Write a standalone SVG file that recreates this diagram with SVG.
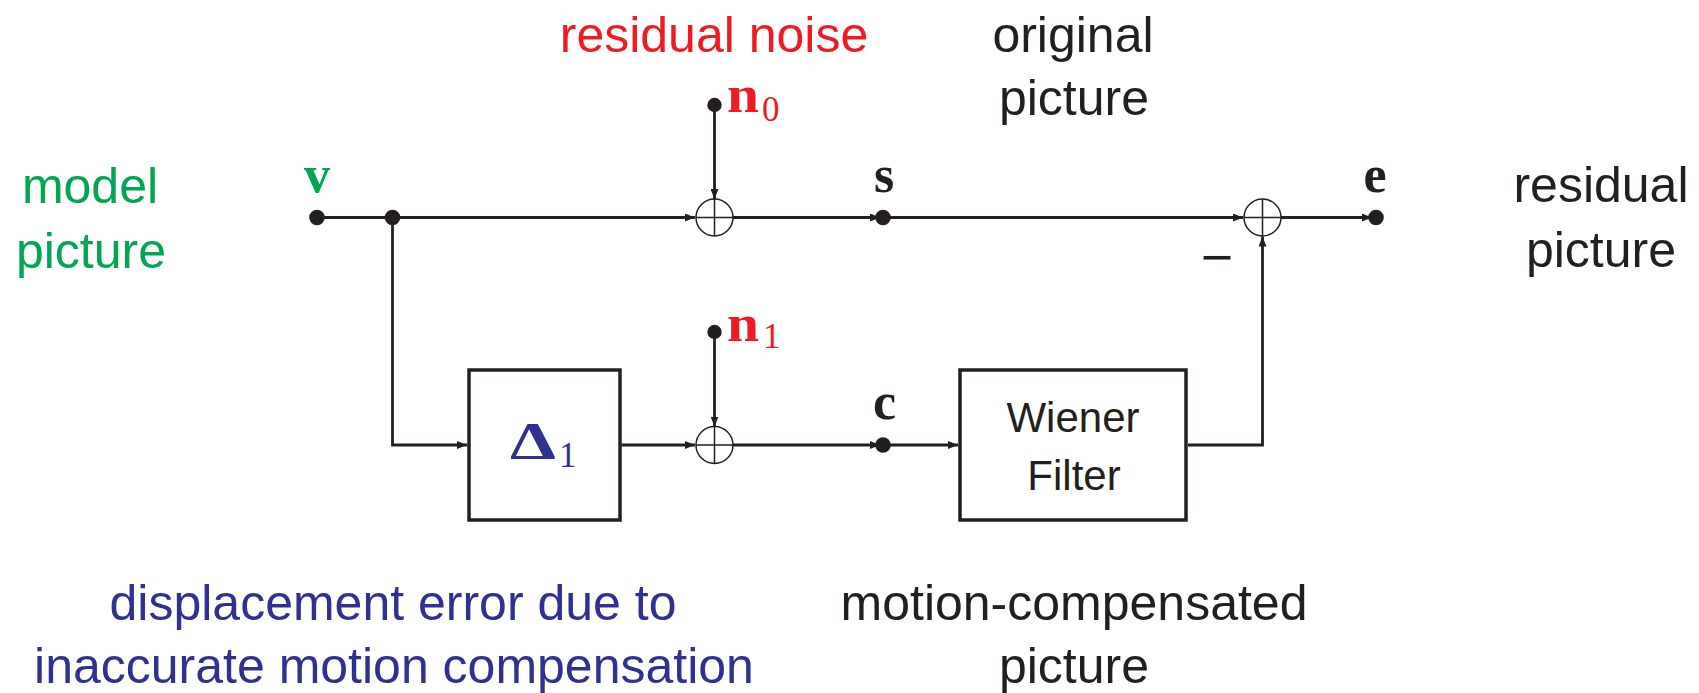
<svg xmlns="http://www.w3.org/2000/svg" width="1699" height="693" viewBox="0 0 1699 693">
<style>
.lbl{font-family:"Liberation Sans",Arial,sans-serif;font-size:50px;text-anchor:middle}
.box{fill:#fff;stroke:#231f20;stroke-width:3.5}
.btxt{font-family:"Liberation Sans",Arial,sans-serif;font-size:42px;text-anchor:middle;fill:#231f20}
.math{font-family:"Liberation Serif","Times New Roman",serif;font-weight:bold;font-size:52px}
.sub{font-family:"Liberation Serif","Times New Roman",serif;font-size:35px}
.wire{fill:none;stroke:#231f20;stroke-width:2.8}
.sum{fill:#fff;stroke:#231f20;stroke-width:1.5}
.dot{fill:#231f20}
.red{fill:#ed1c24}.green{fill:#00a651}.blue{fill:#2e3192}.blk{fill:#231f20}
</style>
<defs>
<marker id="arr" viewBox="0 0 10 8" refX="10" refY="4" markerWidth="10" markerHeight="8" markerUnits="userSpaceOnUse" orient="auto">
<path d="M0,0 L10,4 L0,8 z" fill="#231f20"/>
</marker>
</defs>

<g id="labels">
<text class="lbl green" x="90" y="203">model</text>
<text class="lbl green" x="91" y="268">picture</text>
<text class="lbl red" x="714" y="52">residual noise</text>
<text class="lbl blk" x="1073" y="52">original</text>
<text class="lbl blk" x="1074" y="115">picture</text>
<text class="lbl blk" x="1601" y="202">residual</text>
<text class="lbl blk" x="1601" y="267">picture</text>
<text class="lbl blue" x="393" y="620">displacement error due to</text>
<text class="lbl blue" x="394" y="683">inaccurate motion compensation</text>
<text class="lbl blk" x="1074" y="620">motion-compensated</text>
<text class="lbl blk" x="1074" y="683">picture</text>
</g>

<g id="connectors">
<line class="wire" x1="317" y1="217.5" x2="695" y2="217.5" marker-end="url(#arr)"/>
<line class="wire" x1="733" y1="217.5" x2="880" y2="217.5" marker-end="url(#arr)"/>
<line class="wire" x1="883" y1="217.5" x2="1243" y2="217.5" marker-end="url(#arr)"/>
<line class="wire" x1="1281" y1="217.5" x2="1372" y2="217.5" marker-end="url(#arr)"/>
<line class="wire" x1="714.5" y1="105" x2="714.5" y2="199" marker-end="url(#arr)"/>
<polyline class="wire" points="392.5,217.5 392.5,445 467,445" marker-end="url(#arr)"/>
<line class="wire" x1="621.5" y1="445" x2="695" y2="445" marker-end="url(#arr)"/>
<line class="wire" x1="714.5" y1="332" x2="714.5" y2="426.5" marker-end="url(#arr)"/>
<line class="wire" x1="733" y1="445" x2="880" y2="445" marker-end="url(#arr)"/>
<line class="wire" x1="883" y1="445" x2="958" y2="445" marker-end="url(#arr)"/>
<polyline class="wire" points="1188,445 1262.5,445 1262.5,236.5" marker-end="url(#arr)"/>
</g>

<g id="sum1">
<circle class="sum" cx="714.5" cy="217.5" r="18.5"/>
<path d="M696,217.5 H733 M714.5,199 V236" stroke="#231f20" stroke-width="1.5"/>
</g>
<g id="sum2">
<circle class="sum" cx="1262.5" cy="217.5" r="18.5"/>
<path d="M1244,217.5 H1281 M1262.5,199 V236" stroke="#231f20" stroke-width="1.5"/>
<text class="math blk" x="1217" y="275" font-weight="normal" font-size="56" text-anchor="middle" textLength="33" lengthAdjust="spacingAndGlyphs">−</text>
</g>
<g id="sum3">
<circle class="sum" cx="714.5" cy="445" r="18.5"/>
<path d="M696,445 H733 M714.5,426.5 V463.5" stroke="#231f20" stroke-width="1.5"/>
</g>

<g id="v">
<circle class="dot" cx="317" cy="217.5" r="7.8"/>
<text class="math green" x="317" y="192" text-anchor="middle">v</text>
</g>
<g id="branch">
<circle class="dot" cx="392.5" cy="217.5" r="7.8"/>
</g>
<g id="s">
<circle class="dot" cx="883" cy="217.5" r="7.8"/>
<text class="math blk" x="884" y="192" text-anchor="middle">s</text>
</g>
<g id="e">
<circle class="dot" cx="1376" cy="217.5" r="7.8"/>
<text class="math blk" x="1375" y="192" text-anchor="middle">e</text>
</g>
<g id="n0">
<circle class="dot" cx="714.5" cy="105" r="7.2"/>
<text class="math red" x="727" y="112" textLength="32" lengthAdjust="spacingAndGlyphs">n</text>
<text class="sub red" x="762" y="120.5">0</text>
</g>
<g id="n1">
<circle class="dot" cx="714.5" cy="332" r="7.2"/>
<text class="math red" x="727" y="341" textLength="32" lengthAdjust="spacingAndGlyphs">n</text>
<text class="sub red" x="763" y="348">1</text>
</g>
<g id="c">
<circle class="dot" cx="883" cy="445" r="7.8"/>
<text class="math blk" x="884.5" y="419" text-anchor="middle">c</text>
</g>

<g id="delta1">
<rect class="box" x="469" y="370" width="151" height="150"/>
<text class="math blue" x="510" y="459" font-size="66" textLength="46" lengthAdjust="spacingAndGlyphs">Δ</text>
<text class="sub blue" x="559" y="467" font-size="37">1</text>
</g>
<g id="wiener">
<rect class="box" x="960" y="370" width="226" height="150"/>
<text class="btxt" x="1073" y="432">Wiener</text>
<text class="btxt" x="1074" y="490">Filter</text>
</g>
</svg>
